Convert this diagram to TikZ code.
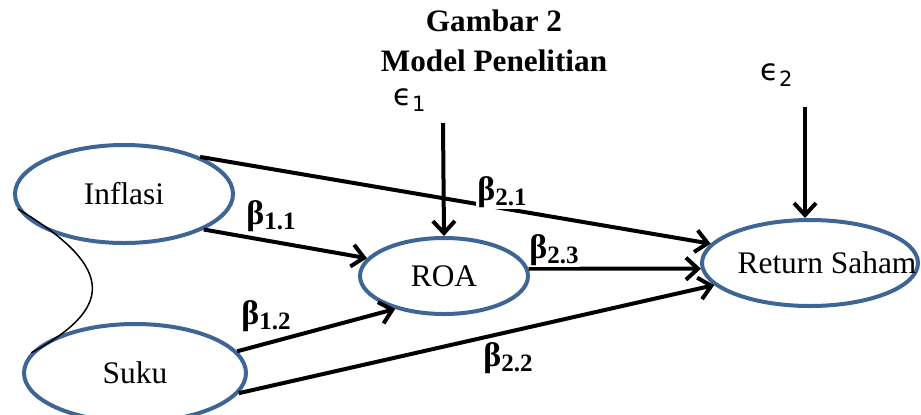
\documentclass[tikz,border=0pt]{standalone}
\usepackage{amsmath, bm, fontspec}
\setmainfont{Liberation Serif}
\newfontfamily\epsfont{DejaVu Sans}
\usetikzlibrary{shapes.geometric, arrows.meta}
\definecolor{varblue}{HTML}{3F6595}

\begin{document}
\begin{tikzpicture}[x=0.5pt, y=-0.5pt,
    var/.style={ellipse, draw=varblue, line width=2pt, inner sep=0pt, font=\fontsize{15.7}{18}\selectfont},
    arr/.style={line width=2pt, -{Straight Barb[length=6pt, width=11pt, line width=2pt]}},
    beta/.style={fill=white, inner sep=0.5pt, font=\bfseries\fontsize{17}{18}\selectfont},
    err/.style={font=\fontsize{15}{18}\selectfont}]
    \clip (0,0) rectangle (921,414);

    % judul
    \node[font=\bfseries\fontsize{15.6}{20}\selectfont, align=center] (title) at (494,41) {Gambar 2\\Model Penelitian};

    % variabel
    \node[var, minimum width=109pt, minimum height=49pt] (inf) at (124,194) {Inflasi};
    \node[var, minimum width=111pt, minimum height=49pt] (suku) at (135,373) {Suku};
    \node[var, minimum width=84pt, minimum height=38pt] (roa) at (444,276) {ROA};
    \node[var, minimum width=108pt, minimum height=43pt,
          label={[xshift=8.5pt, font=\fontsize{15.7}{18}\selectfont]center:Return Saham}] (ret) at (810,263) {};

    % error
    \node[err] (e1) at (410,100) {$\text{\epsfont ϵ}_{\text{\epsfont 1}}$};
    \node[err] (e2) at (777,75) {$\text{\epsfont ϵ}_{\text{\epsfont 2}}$};
    \coordinate (e1s) at (443,123);
    \coordinate (e2s) at (805,107);

    % panah
    \draw[arr] (inf.26) -- (ret.169);
    \draw[arr] (inf.-24) -- (roa.167);
    \draw[arr] (suku.12) -- (roa.214);
    \draw[arr] (suku.-11) -- (ret.193);
    \draw[arr] (roa.5) -- (ret.183);
    \draw[arr] (e1s) -- (roa.north);
    \draw[arr] (e2s) -- (e2s |- ret.north);
    \draw[line width=0.75pt] (inf.188) .. controls (120,270) and (110,310) .. (suku.169);

    % koefisien
    \foreach \n/\x/\y/\s in {b11/271/216/1.1, b21/502/192/2.1, b23/554/250/2.3, b12/266/316/1.2, b22/508/358/2.2}
        \node[beta] (\n) at (\x,\y) {β\raisebox{-0.3ex}{\fontsize{12.5}{14}\selectfont\s}};
\end{tikzpicture}
\end{document}
